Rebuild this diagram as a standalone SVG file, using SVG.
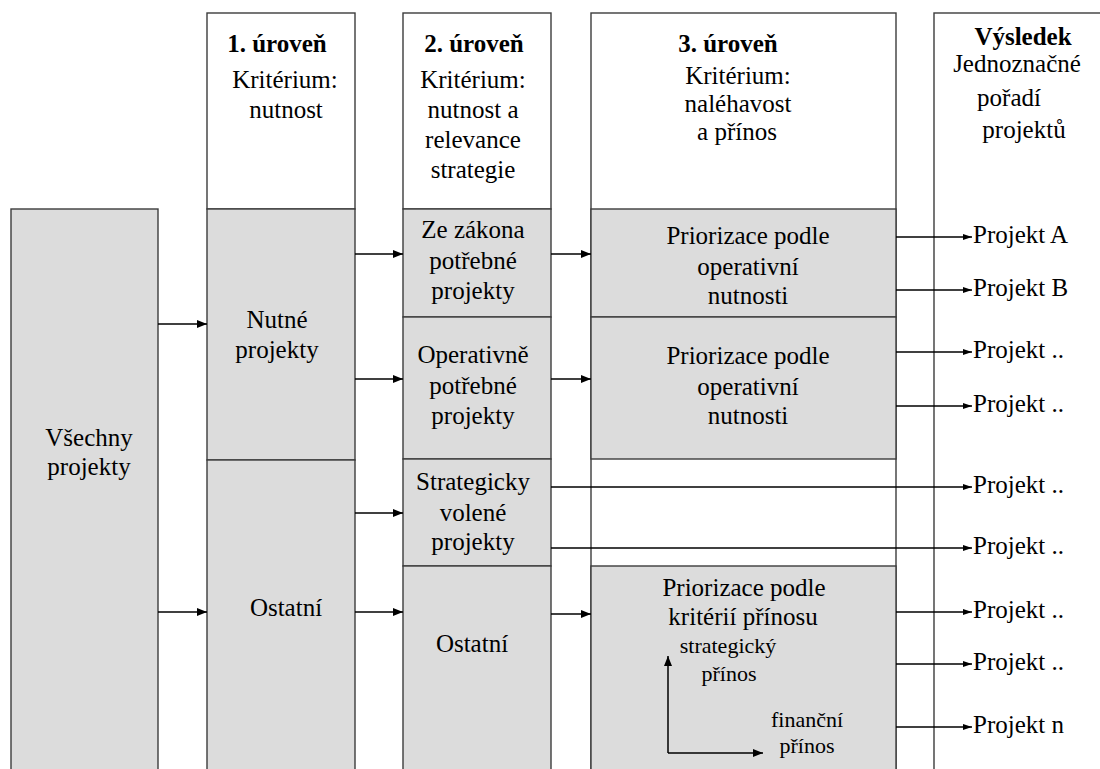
<svg xmlns="http://www.w3.org/2000/svg" width="1100" height="769" viewBox="0 0 1100 769">
  <defs>
    <marker id="ah" viewBox="0 0 10 8" refX="10" refY="4" markerWidth="10" markerHeight="8" markerUnits="userSpaceOnUse" orient="auto">
      <path d="M0,0 L10,4 L0,8 Z" fill="#000000"/>
    </marker>
    <marker id="ahs" viewBox="0 0 9 6" refX="9" refY="3" markerWidth="9" markerHeight="6" markerUnits="userSpaceOnUse" orient="auto">
      <path d="M0,0 L9,3 L0,6 Z" fill="#000000"/>
    </marker>
  </defs>

  <rect width="1100" height="769" fill="#ffffff"/>

  <!-- All projects -->
  <g id="vsechny" font-family="Liberation Serif" font-size="25" text-anchor="middle">
    <rect x="11" y="209" width="147" height="580" fill="#dcdcdc" stroke="#3c3c3c" stroke-width="1.4"/>
    <text x="89" y="446">Všechny</text>
    <text x="89" y="475">projekty</text>
  </g>

  <!-- Level 1 -->
  <g id="uroven1" font-family="Liberation Serif" font-size="25" text-anchor="middle">
    <rect x="207" y="13" width="148" height="196" fill="#ffffff" stroke="#3c3c3c" stroke-width="1.4"/>
    <text font-weight="bold" x="277" y="52">1. úroveň</text>
    <text x="285" y="88">Kritérium:</text>
    <text x="286" y="118">nutnost</text>
  </g>
  <g id="nutne" font-family="Liberation Serif" font-size="25" text-anchor="middle">
    <rect x="207" y="209" width="148" height="251" fill="#dcdcdc" stroke="#3c3c3c" stroke-width="1.4"/>
    <text x="277" y="328">Nutné</text>
    <text x="277" y="358">projekty</text>
  </g>
  <g id="ostatni1" font-family="Liberation Serif" font-size="25" text-anchor="middle">
    <rect x="207" y="460" width="148" height="330" fill="#dcdcdc" stroke="#3c3c3c" stroke-width="1.4"/>
    <text x="286" y="616">Ostatní</text>
  </g>

  <!-- Level 2 -->
  <g id="uroven2" font-family="Liberation Serif" font-size="25" text-anchor="middle">
    <rect x="403" y="13" width="148" height="196" fill="#ffffff" stroke="#3c3c3c" stroke-width="1.4"/>
    <text font-weight="bold" x="474" y="52">2. úroveň</text>
    <text x="473" y="88">Kritérium:</text>
    <text x="473" y="118">nutnost a</text>
    <text x="473" y="148">relevance</text>
    <text x="473" y="178">strategie</text>
  </g>
  <g id="zakon" font-family="Liberation Serif" font-size="25" text-anchor="middle">
    <rect x="403" y="209" width="148" height="108" fill="#dcdcdc" stroke="#3c3c3c" stroke-width="1.4"/>
    <text x="473" y="238">Ze zákona</text>
    <text x="473" y="269">potřebné</text>
    <text x="473" y="299">projekty</text>
  </g>
  <g id="operativne" font-family="Liberation Serif" font-size="25" text-anchor="middle">
    <rect x="403" y="317" width="148" height="142" fill="#dcdcdc" stroke="#3c3c3c" stroke-width="1.4"/>
    <text x="473" y="363">Operativně</text>
    <text x="473" y="394">potřebné</text>
    <text x="473" y="424">projekty</text>
  </g>
  <g id="strategicky" font-family="Liberation Serif" font-size="25" text-anchor="middle">
    <rect x="403" y="459" width="148" height="107" fill="#dcdcdc" stroke="#3c3c3c" stroke-width="1.4"/>
    <text x="473" y="490">Strategicky</text>
    <text x="473" y="521">volené</text>
    <text x="473" y="550">projekty</text>
  </g>
  <g id="ostatni2" font-family="Liberation Serif" font-size="25" text-anchor="middle">
    <rect x="403" y="566" width="148" height="224" fill="#dcdcdc" stroke="#3c3c3c" stroke-width="1.4"/>
    <text x="472" y="652">Ostatní</text>
  </g>

  <!-- Level 3 -->
  <g id="uroven3" font-family="Liberation Serif" font-size="25" text-anchor="middle">
    <rect x="591" y="13" width="305" height="776" fill="#ffffff" stroke="#3c3c3c" stroke-width="1.4"/>
    <text font-weight="bold" x="728" y="52">3. úroveň</text>
    <text x="738" y="84">Kritérium:</text>
    <text x="738" y="112">naléhavost</text>
    <text x="737" y="140">a přínos</text>
  </g>
  <g id="priorizace1" font-family="Liberation Serif" font-size="25" text-anchor="middle">
    <rect x="591" y="209" width="305" height="108" fill="#dcdcdc" stroke="#3c3c3c" stroke-width="1.4"/>
    <text x="748" y="244">Priorizace podle</text>
    <text x="748" y="275">operativní</text>
    <text x="748" y="304">nutnosti</text>
  </g>
  <g id="priorizace2" font-family="Liberation Serif" font-size="25" text-anchor="middle">
    <rect x="591" y="317" width="305" height="142" fill="#dcdcdc" stroke="#3c3c3c" stroke-width="1.4"/>
    <text x="748" y="364">Priorizace podle</text>
    <text x="748" y="395">operativní</text>
    <text x="748" y="424">nutnosti</text>
  </g>
  <g id="priorizace3" font-family="Liberation Serif" font-size="25" text-anchor="middle">
    <rect x="591" y="566" width="305" height="224" fill="#dcdcdc" stroke="#3c3c3c" stroke-width="1.4"/>
    <text x="744" y="596">Priorizace podle</text>
    <text x="743" y="625">kritérií přínosu</text>
    <text font-size="22" x="728" y="653">strategický</text>
    <text font-size="22" x="729" y="681">přínos</text>
    <text font-size="22" x="807" y="727">finanční</text>
    <text font-size="22" x="807" y="753">přínos</text>
    <path d="M668,753 V656" stroke="#000000" stroke-width="1.5" fill="none" marker-end="url(#ah)"/>
    <path d="M668,753 H763" stroke="#000000" stroke-width="1.5" fill="none" marker-end="url(#ah)"/>
  </g>

  <!-- Result column -->
  <g id="vysledek" font-family="Liberation Serif" font-size="25" text-anchor="middle">
    <rect x="934" y="13" width="200" height="790" fill="#ffffff" stroke="#3c3c3c" stroke-width="1.4"/>
    <text font-weight="bold" x="1023" y="45">Výsledek</text>
    <text x="1017" y="72">Jednoznačné</text>
    <text x="1009" y="106">pořadí</text>
    <text x="1024" y="138">projektů</text>
  </g>

  <!-- Connectors -->
  <g id="connectors" stroke="#000000" stroke-width="1.5" fill="none">
    <path d="M158,324 H207" marker-end="url(#ah)"/>
    <path d="M158,612 H207" marker-end="url(#ah)"/>
    <path d="M355,254 H403" marker-end="url(#ah)"/>
    <path d="M355,379 H403" marker-end="url(#ah)"/>
    <path d="M355,513 H403" marker-end="url(#ah)"/>
    <path d="M355,612 H403" marker-end="url(#ah)"/>
    <path d="M551,254 H591" marker-end="url(#ah)"/>
    <path d="M551,379 H591" marker-end="url(#ah)"/>
    <path d="M551,614 H591" marker-end="url(#ah)"/>
    <path d="M896,237 H972" marker-end="url(#ahs)"/>
    <path d="M896,290 H972" marker-end="url(#ahs)"/>
    <path d="M896,352 H972" marker-end="url(#ahs)"/>
    <path d="M896,406 H972" marker-end="url(#ahs)"/>
    <path d="M551,487 H972" marker-end="url(#ahs)"/>
    <path d="M551,548 H972" marker-end="url(#ahs)"/>
    <path d="M896,612 H972" marker-end="url(#ahs)"/>
    <path d="M896,664 H972" marker-end="url(#ahs)"/>
    <path d="M896,727 H972" marker-end="url(#ahs)"/>
  </g>

  <!-- Ranked projects -->
  <g id="poradi" font-family="Liberation Serif" font-size="25" text-anchor="start">
    <text x="973" y="243">Projekt A</text>
    <text x="973" y="296">Projekt B</text>
    <text x="973" y="358">Projekt ..</text>
    <text x="973" y="412">Projekt ..</text>
    <text x="973" y="493">Projekt ..</text>
    <text x="973" y="554">Projekt ..</text>
    <text x="973" y="618">Projekt ..</text>
    <text x="973" y="670">Projekt ..</text>
    <text x="973" y="733">Projekt n</text>
  </g>
</svg>
